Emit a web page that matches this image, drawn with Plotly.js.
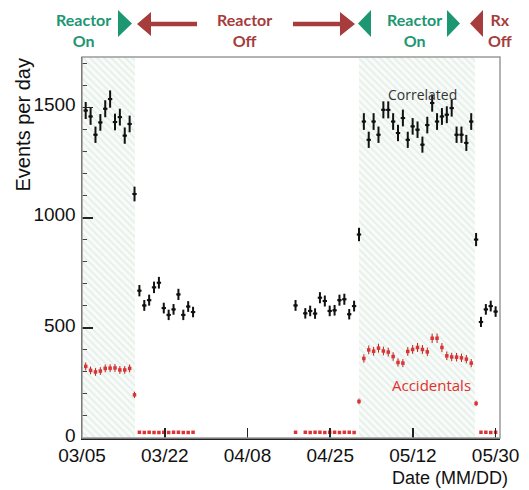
<!DOCTYPE html>
<html><head><meta charset="utf-8">
<script src="https://cdn.plot.ly/plotly-3.0.1.min.js"></script>
<style>html,body{margin:0;padding:0;background:#fff;}#chart{width:529px;height:490px;}</style>
</head><body><div id="chart"></div>
<script>
// ---- data (day index, day 0 = 03/05) ----
const corrDays = [0,1,2,3,4,5,6,7,8,9,10,11,12,13,14,15,16,17,18,19,20,21,22,
  43,45,46,47,48,49,50,51,52,53,54,55,56,
  57,58,59,60,61,62,63,64,65,66,67,68,69,70,71,72,73,74,75,76,77,78,79,80,81,82,83,84];
const correlated = [1487,1460,1377,1433,1495,1539,1435,1457,1373,1426,
  1108,
  669,602,626,684,705,590,559,584,652,559,597,572,
  602,
  566,577,565,637,622,577,580,626,630,562,599,
  924,
  1437,1354,1437,1377,1490,1490,1437,1385,1453,1354,1415,1400,1332,1421,1521,1437,1460,1468,1498,1377,1377,1340,1437,
  901,
  527,584,599,574];
const accidentals = [325,307,300,304,316,317,318,309,309,316,
  196,
  26,25,26,25,25,26,25,26,26,25,25,26,
  26,
  26,25,26,26,25,26,26,25,26,26,25,
  166,
  361,400,394,408,395,390,370,343,340,393,402,411,402,391,453,453,411,373,368,367,364,358,340,
  157,
  26,26,25,26];
const reactorOnFrom = [-0.76, 56.1];
const reactorOnTo   = [10.1, 79.8];
const tickDays  = [-0.76, 16.2, 33.15, 50.1, 67.05, 84.0];
const tickLabels = ['03/05','03/22','04/08','04/25','05/12','05/30'];
const Y_TOP = 1730;

// ---- geometry helpers for decorations (pixel -> paper) ----
const L=82, R=500, T=57, B=438;
const px = x => (x-L)/(R-L);
const py = y => (B-y)/(B-T);
const GREEN = '#1d9672', RED = '#a63c3c';
function tri(pts){ return 'M' + pts.map(p => px(p[0]) + ',' + py(p[1])).join(' L') + ' Z'; }
function pathShape(d, col){ return {type:'path', xref:'paper', yref:'paper', path:d, fillcolor:col, line:{width:0}, layer:'above'}; }

const shapes = [
  {type:'rect', xref:'paper', yref:'paper', x0:0, x1:1, y0:0, y1:1, line:{color:'#9a9a9a', width:1.5}, layer:'above'},
  pathShape(tri([[118,10],[132,23.5],[118,37]]), GREEN),
  pathShape(tri([[137,24],[151,12],[151,21.8],[197,21.8],[197,26.2],[151,26.2],[151,36]]), RED),
  pathShape(tri([[293,21.8],[340,21.8],[340,12],[355,24],[340,36],[340,26.2],[293,26.2]]), RED),
  pathShape(tri([[371,10],[358,23.5],[371,37]]), GREEN),
  pathShape(tri([[447,10],[460,23.5],[447,37]]), GREEN),
  pathShape(tri([[483,10],[470,23.5],[483,37]]), RED)
];

function hdr(text, x, col){
  return {text:text, xref:'paper', yref:'paper', x:px(x), y:py(30), xanchor:'center', yanchor:'middle',
    showarrow:false, font:{family:'Lato', size:16, color:col}};
}
const annotations = [
  hdr('<b>Reactor</b><br><b>On</b>', 83, GREEN),
  hdr('<b>Reactor</b><br><b>Off</b>', 244, RED),
  hdr('<b>Reactor</b><br><b>On</b>', 414, GREEN),
  hdr('<b>Rx</b><br><b>Off</b>', 500, RED),
  {text:'Correlated', xref:'paper', yref:'paper', x:px(422), y:py(95), xanchor:'center', yanchor:'middle',
    showarrow:false, font:{family:'Open Sans', size:14, color:'#333'}},
  {text:'Accidentals', xref:'paper', yref:'paper', x:px(431), y:py(385), xanchor:'center', yanchor:'middle',
    showarrow:false, font:{family:'Open Sans', size:15, color:'#e0302e'}},
  {text:'Events per day', xref:'paper', yref:'paper', x:px(22), y:1, xanchor:'center', yanchor:'top',
    textangle:-90, showarrow:false, font:{family:'Liberation Sans', size:20, color:'#111'}},
  {text:'Date (MM/DD)', xref:'paper', yref:'paper', x:px(510), y:py(478), xanchor:'right', yanchor:'middle',
    showarrow:false, font:{family:'Liberation Sans', size:18, color:'#111'}}
];

const shade = {
  type:'bar', x: reactorOnFrom.map((a,i)=>(a+reactorOnTo[i])/2), y: reactorOnFrom.map(()=>Y_TOP),
  width: reactorOnFrom.map((a,i)=>reactorOnTo[i]-a),
  marker:{color:'#f8fbf9', line:{width:0},
    pattern:{shape:'\\', fgcolor:'#e2efe6', bgcolor:'#f8fbf9', size:5, solidity:0.3}},
  hoverinfo:'skip', showlegend:false
};
const corrTrace = {
  type:'scatter', mode:'markers', x:corrDays, y:correlated,
  marker:{color:'#111', size:3},
  error_y:{type:'sqrt', color:'#111', thickness:2, width:0},
  error_x:{type:'constant', value:0.45, color:'#111', thickness:2, width:0},
  showlegend:false
};
const accTrace = {
  type:'scatter', mode:'markers', x:corrDays, y:accidentals,
  marker:{color:'#dc3434', size:3.5, symbol:'square'},
  error_y:{type:'sqrt', color:'#b02525', thickness:1, width:0},
  showlegend:false
};

const layout = {
  width:529, height:490,
  margin:{l:L, r:529-R, t:T, b:490-B},
  paper_bgcolor:'#fff', plot_bgcolor:'#fff',
  barmode:'overlay', bargap:0,
  xaxis:{range:[-0.76, 84.9], tickvals:tickDays, ticktext:tickLabels, ticks:'inside', ticklen:10,
    tickwidth:1.5, tickcolor:'#222', showgrid:false, zeroline:false, showline:true, linecolor:'#222', linewidth:1.5,
    tickfont:{family:'Liberation Sans', size:19, color:'#111'}, ticklabelstandoff:0},
  yaxis:{range:[0, Y_TOP], dtick:500, ticks:'inside', ticklen:11, tickwidth:1.5, tickcolor:'#222',
    minor:{ticks:'inside', ticklen:5, dtick:100, tickcolor:'#444', tickwidth:1},
    showgrid:false, zeroline:false, showline:true, linecolor:'#222', linewidth:1.5,
    tickfont:{family:'Liberation Sans', size:19, color:'#111'}, ticklabelstandoff:1, ticklabelshift:-3},
  shapes:shapes, annotations:annotations,
  font:{family:'Liberation Sans'}
};
Plotly.newPlot('chart', [shade, corrTrace, accTrace], layout, {staticPlot:true, displayModeBar:false});
</script></body></html>
